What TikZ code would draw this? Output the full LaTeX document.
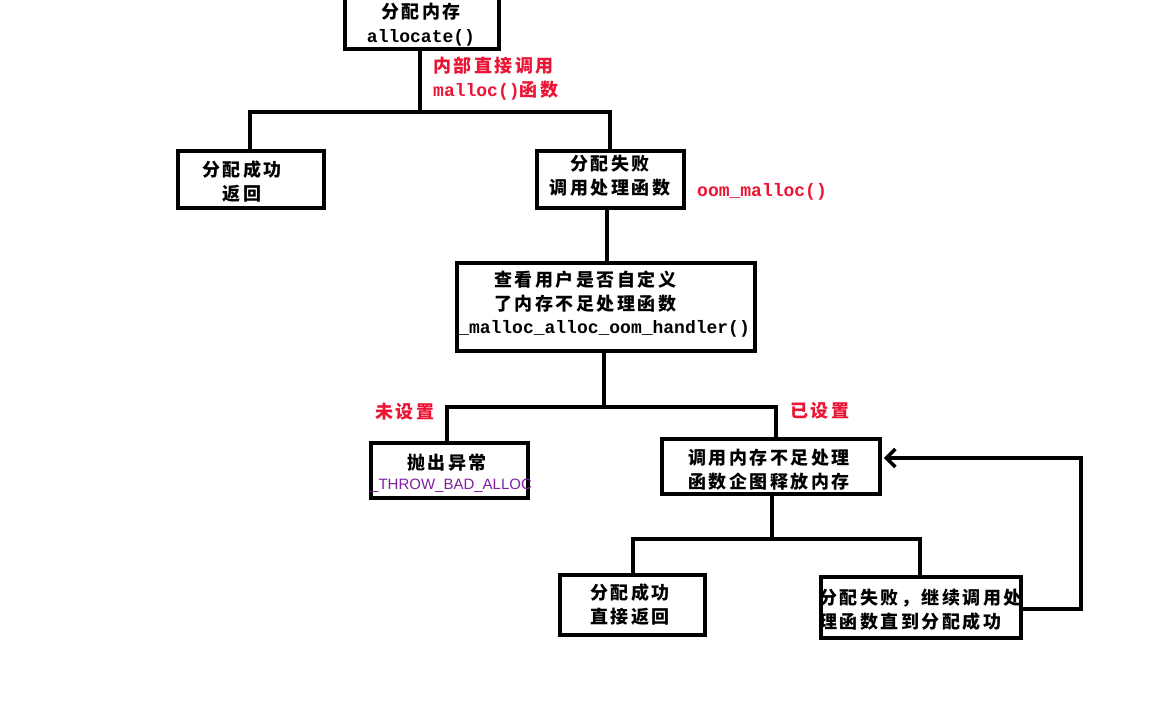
\documentclass[tikz,border=0pt]{standalone}
\usepackage{fontspec}
\usetikzlibrary{arrows.meta,calc}
\newfontfamily\cjk[LetterSpace=14]{Noto Sans CJK SC}
\newfontfamily\monot{Liberation Mono}
\newfontfamily\sanst{Liberation Sans}
\definecolor{notered}{RGB}{236,20,52}
\definecolor{macropurple}{RGB}{128,32,160}

\tikzset{
  box/.style={draw, line width=3.8pt, inner sep=0pt},
  wire/.style={line width=3.5pt},
  txt/.style={inner sep=0pt, align=left, font=\cjk\bfseries\fontsize{18}{24}\selectfont},
  ctxt/.style={txt, align=center},
  code/.style={inner sep=0pt, anchor=west, font=\monot\bfseries\fontsize{18}{24}\selectfont},
  note/.style={txt, anchor=west, text=notered},
}

\begin{document}
\begin{tikzpicture}[x=1pt,y=-1pt]
\fill[white] (0,0) rectangle (1156,716);
\useasboundingbox (0,0) rectangle (1156,716);

% boxes
\node[box, minimum width=154pt, minimum height=54pt] (A) at (422,22) {};
\node[box, minimum width=146pt, minimum height=57pt] (B) at (251,179.5) {};
\node[box, minimum width=147pt, minimum height=57pt] (C) at (610.5,179.5) {};
\node[box, minimum width=298pt, minimum height=88pt] (D) at (606,307) {};
\node[box, minimum width=157pt, minimum height=55pt] (E) at (449.5,470.5) {};
\node[box, minimum width=218pt, minimum height=55pt] (F) at (771,466.5) {};
\node[box, minimum width=145pt, minimum height=60pt] (G) at (632.5,605) {};
\node[box, minimum width=200pt, minimum height=61pt] (H) at (921,607.5) {};

% box texts
\node[ctxt] (tA) at (421,25) {分配内存\\{\monot allocate()}};
\node[ctxt] (tB) at (242,182) {分配成功\\返回};
\node[ctxt] (tC) at (610,176) {分配失败\\调用处理函数};
\node[txt, anchor=west] (tD) at (494,292) {查看用户是否自定义\\了内存不足处理函数};
\node[code] (tDc) at (458,329) {\_malloc\_alloc\_oom\_handler()};
\node[ctxt] (tE) at (447,463) {抛出异常};
\node[inner sep=0pt, anchor=west, text=macropurple, font=\sanst\fontsize{15}{20}\selectfont] (tEc) at (370,486) {\_THROW\_BAD\_ALLOC};
\node[txt, anchor=west] (tF) at (688,469.5) {调用内存不足处理\\函数企图释放内存};
\node[txt, anchor=west] (tG) at (590,605) {分配成功\\直接返回};
\node[txt, anchor=west] (tH) at (819,610) {分配失败，继续调用处\\理函数直到分配成功};

% red notes
\node[note] (n1) at (433,79) {内部直接调用\\{\monot malloc()}函数};
\node[code, text=notered] (n2) at (697,192) {oom\_malloc()};
\node[note] (n3) at (375,412) {未设置};
\node[note] (n4) at (790,411) {已设置};

% connectors
\draw[wire] ($(A.south)+(-2,0)$) -- ++(0,61) coordinate (j1);
\draw[wire] ($(B.north)+(-1,0)$) |- (j1) -| ($(C.north)+(-0.5,0)$);
\draw[wire] ($(C.south)+(-3.5,0)$) -- ($(D.north)+(1,0)$);
\draw[wire] ($(D.south)+(-2,0)$) -- ++(0,54) coordinate (j2);
\draw[wire] ($(E.north)+(-2.5,0)$) |- (j2) -| ($(F.north)+(5,0)$);
\draw[wire] ($(F.south)+(1,0)$) -- ++(0,43) coordinate (j3);
\draw[wire] ($(G.north)+(0.5,0)$) |- (j3) -| ($(H.north)+(-1,0)$);
\draw[wire, -{Straight Barb[length=9pt,width=18pt]}] ($(H.east)+(0,1.5)$) -- ++(58,0) |- ($(F.east)+(2,-8.5)$);
\end{tikzpicture}
\end{document}
